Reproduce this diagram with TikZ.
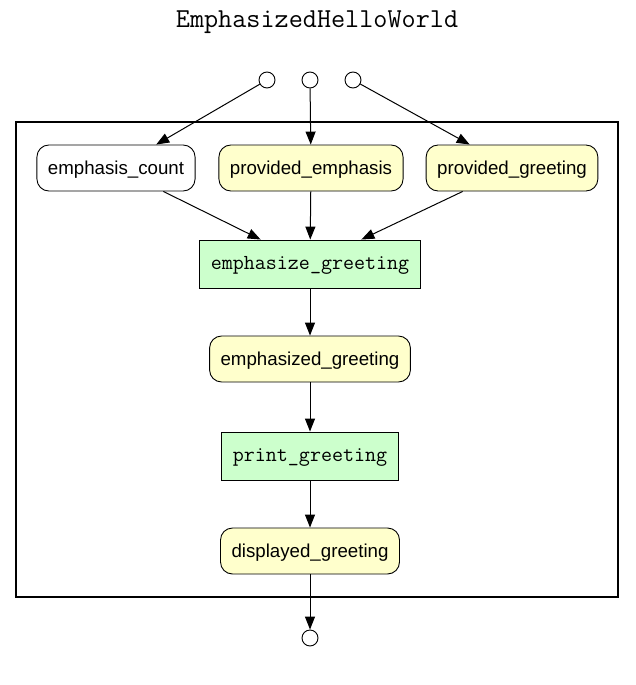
\documentclass[tikz,border=0pt]{standalone}
\usepackage{fontspec}
\setmainfont{Liberation Sans}
\usetikzlibrary{arrows.meta}
\definecolor{datayellow}{HTML}{FFFFCC}
\definecolor{stepgreen}{HTML}{CCFFCC}
\tikzset{
  port/.style={draw,circle,fill=white,line width=0.9pt,minimum size=16pt,inner sep=0pt},
  data/.style={draw,rounded corners=12pt,fill=datayellow,line width=0.9pt,
    font=\fontsize{18.7}{20}\selectfont,inner xsep=11pt,minimum height=46pt,
    text height=14pt,text depth=2pt},
  param/.style={data,fill=white},
  stepbox/.style={draw,fill=stepgreen,line width=0.9pt,
    font=\fontsize{21.4}{23}\selectfont\ttfamily,inner xsep=11pt,minimum height=48pt,
    text height=12pt,text depth=2pt},
  flow/.style={line width=1pt,-{Triangle[length=13pt,width=10pt]}}
}
\begin{document}
\begin{tikzpicture}[x=1pt,y=-1pt]
\useasboundingbox (0,0) rectangle (635,685);
\node (title) at (317,22) {\fontsize{27.4}{29}\selectfont\ttfamily EmphasizedHelloWorld};
\draw[line width=2pt] (16,122) rectangle (618,597);
% inputs
\node[port] (inA) at (267,80) {};
\node[port] (inB) at (310,80) {};
\node[port] (inC) at (353,80) {};
\node[param] (count) at (116,168) {emphasis\_count};
\node[data] (emph) at (311,168) {provided\_emphasis};
\node[data] (greet) at (512,168) {provided\_greeting};
% steps
\node[stepbox] (emphstep) at (310,264) {emphasize\_greeting};
\node[data] (emphed) at (310,359) {emphasized\_greeting};
\node[stepbox] (printstep) at (310,456) {print\_greeting};
\node[data] (shown) at (310,551) {displayed\_greeting};
\node[port] (out) at (310,638) {};
\draw[flow] (inA) -- (count);
\draw[flow] (inB) -- (emph);
\draw[flow] (inC) -- (greet);
\draw[flow] (count) -- (emphstep);
\draw[flow] (emph) -- (emphstep);
\draw[flow] (greet) -- (emphstep);
\draw[flow] (emphstep) -- (emphed);
\draw[flow] (emphed) -- (printstep);
\draw[flow] (printstep) -- (shown);
\draw[flow] (shown) -- (out);
\end{tikzpicture}
\end{document}
